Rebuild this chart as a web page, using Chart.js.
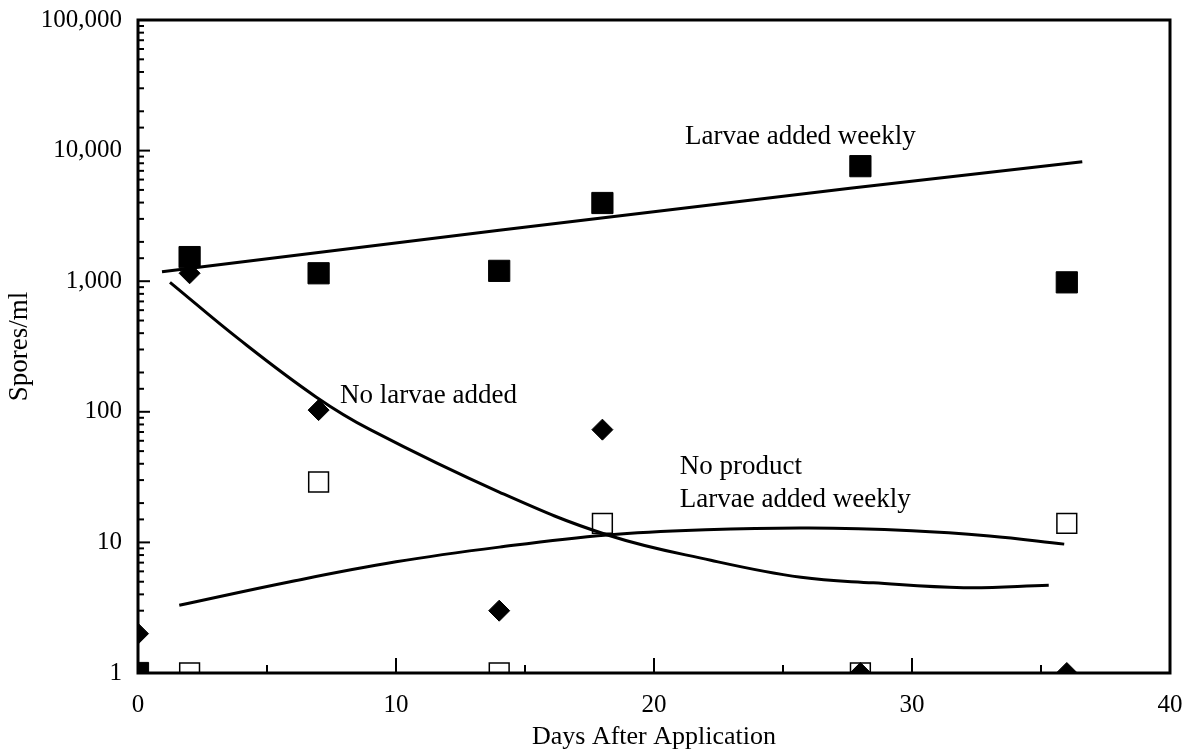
<!DOCTYPE html>
<html><head><meta charset="utf-8">
<script src="https://cdn.jsdelivr.net/npm/chart.js@4"></script>
<style>html,body{margin:0;padding:0;background:#fff}#wrap{width:1193px;height:754px;position:relative}</style>
</head><body><div id="wrap"><canvas id="c"></canvas></div>
<script>
// Measured points
const days = [0, 2, 7, 14, 18, 28, 36];
const larvaeWeekly = [1, 1530, 1150, 1200, 3970, 7600, 980];
const noLarvae = [2, 1150, 103, 3, 73, 1, 1];
const noProduct = [null, 1, 29, 1, 14, 1, 14];

// Fitted curves
const fitWeeklyDays = [0.93, 14, 27.6, 36.6];
const fitWeekly = [1180, 2460, 5150, 8200];
const fitNoLarvaeDays = [1.24, 3.95, 6.9, 9, 14, 18.2, 22.2, 25.7, 28.5, 32, 35.3];
const fitNoLarvae = [980, 355, 130, 73, 24.3, 11.4, 7.3, 5.4, 4.9, 4.5, 4.7];
const fitNoProductDays = [1.6, 5.9, 10, 14, 18.2, 22, 26, 30, 33, 35.9];
const fitNoProduct = [3.3, 5.0, 7.1, 9.2, 11.4, 12.5, 12.9, 12.3, 11.2, 9.7];

// Tick labels
const xTickLabels = ['0', '10', '20', '30', '40'];
const yTickLabels = ['1', '10', '100', '1,000', '10,000', '100,000'];

// Curve annotations
const noteTexts = ['Larvae added weekly', 'No larvae added', 'No product', 'Larvae added weekly'];
const noteDays = [21.2, 7.83, 21.0, 21.0];
const noteValues = [12700, 132, 37.8, 21.1];

const FONT = "'Liberation Serif', 'DejaVu Serif', serif";
function pts(xs, ys) { return xs.map((x, i) => ({x: x, y: ys[i]})).filter(p => p.y !== null); }
function isDecade(v) { const l = Math.log10(v); return Math.abs(l - Math.round(l)) < 1e-9; }

const framePlugin = {
  id: 'frame',
  afterDatasetsDraw(chart) {
    const {ctx, chartArea: a, scales: {x, y}} = chart;
    ctx.save();
    ctx.strokeStyle = '#000';
    ctx.lineWidth = 2;
    x.ticks.forEach(t => {
      if (t.value <= x.min || t.value >= x.max) return;
      const px = x.getPixelForValue(t.value);
      const len = (t.value % 10 === 0) ? 15 : 8;
      ctx.beginPath(); ctx.moveTo(px, a.bottom); ctx.lineTo(px, a.bottom - len); ctx.stroke();
    });
    y.ticks.forEach(t => {
      if (t.value <= y.min || t.value >= y.max) return;
      const py = y.getPixelForValue(t.value);
      const len = isDecade(t.value) ? 12 : 6;
      ctx.beginPath(); ctx.moveTo(a.left, py); ctx.lineTo(a.left + len, py); ctx.stroke();
    });
    ctx.lineWidth = 3;
    ctx.strokeRect(a.left, a.top, a.right - a.left, a.bottom - a.top);
    ctx.fillStyle = '#000';
    ctx.font = '27px ' + FONT;
    ctx.textBaseline = 'middle';
    ctx.textAlign = 'left';
    noteTexts.forEach((s, i) => ctx.fillText(s, x.getPixelForValue(noteDays[i]), y.getPixelForValue(noteValues[i])));
    ctx.restore();
  }
};

new Chart(document.getElementById('c'), {
  type: 'scatter',
  data: {
    datasets: [
      { label: 'Larvae added weekly', data: pts(days, larvaeWeekly), pointStyle: 'rect', pointRadius: 15,
        backgroundColor: '#000', borderColor: '#000', borderWidth: 1, showLine: false },
      { label: 'No larvae added', data: pts(days, noLarvae), pointStyle: 'rectRot', pointRadius: 10.5,
        backgroundColor: '#000', borderColor: '#000', borderWidth: 1, showLine: false },
      { label: 'No product, larvae added weekly', data: pts(days, noProduct), pointStyle: 'rect', pointRadius: 14,
        backgroundColor: 'rgba(0,0,0,0)', borderColor: '#000', borderWidth: 1.5, showLine: false },
      { label: 'fit weekly', data: pts(fitWeeklyDays, fitWeekly), showLine: true, pointRadius: 0,
        borderColor: '#000', borderWidth: 3, tension: 0 },
      { label: 'fit no larvae', data: pts(fitNoLarvaeDays, fitNoLarvae), showLine: true, pointRadius: 0,
        borderColor: '#000', borderWidth: 3, tension: 0.4 },
      { label: 'fit no product', data: pts(fitNoProductDays, fitNoProduct), showLine: true, pointRadius: 0,
        borderColor: '#000', borderWidth: 3, tension: 0.4 }
    ]
  },
  options: {
    responsive: true,
    maintainAspectRatio: false,
    animation: false,
    events: [],
    layout: { padding: { left: 0, right: 23, top: 20, bottom: 0 } },
    plugins: { legend: { display: false }, tooltip: { enabled: false } },
    scales: {
      x: {
        type: 'linear', min: 0, max: 40,
        grid: { display: false, drawTicks: false },
        border: { display: false },
        ticks: {
          stepSize: 5, autoSkip: false, maxRotation: 0, padding: 17, color: '#000',
          font: { family: FONT, size: 25 },
          callback: (v) => (v % 10 === 0 ? xTickLabels[v / 10] : '')
        },
        title: { display: true, text: 'Days After Application', color: '#000',
          font: { family: FONT, size: 26 }, padding: { top: 0, bottom: 1 } },
        afterFit: (s) => { s.height = 81; s.paddingLeft = 0; s.paddingRight = 0; }
      },
      y: {
        type: 'logarithmic', min: 1, max: 100000,
        grid: { display: false, drawTicks: false },
        border: { display: false },
        ticks: {
          autoSkip: false, padding: 16, color: '#000',
          font: { family: FONT, size: 25 },
          callback: (v) => (isDecade(v) ? yTickLabels[Math.round(Math.log10(v))] : '')
        },
        title: { display: true, text: 'Spores/ml', color: '#000',
          font: { family: FONT, size: 27 }, padding: { top: 4, bottom: 0 } },
        afterFit: (s) => { s.width = 138; s.paddingTop = 0; s.paddingBottom = 0; }
      }
    }
  },
  plugins: [framePlugin]
});
</script>
</body></html>
